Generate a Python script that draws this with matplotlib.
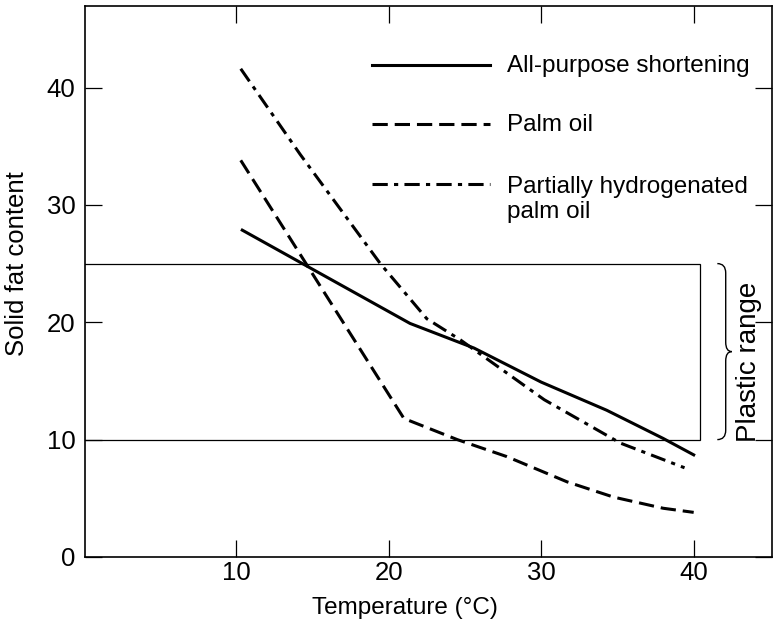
import matplotlib
matplotlib.use('Agg')
import matplotlib.pyplot as plt
from matplotlib.path import Path
from matplotlib.patches import PathPatch, Rectangle

plt.rcParams['font.family'] = ['Liberation Sans', 'DejaVu Sans']
plt.rcParams['lines.scale_dashes'] = False

# Data
temp_short = [10.4, 21.4, 25.6, 30.0, 34.3, 38.0, 40.0]
sfc_short = [27.85, 19.9, 17.8, 14.9, 12.5, 10.1, 8.7]

temp_palm = [10.3, 21.0, 24.5, 27.75, 31.7, 34.75, 38.0, 40.0]
sfc_palm = [33.8, 11.8, 10.0, 8.55, 6.4, 5.1, 4.15, 3.8]

temp_hydro = [10.3, 14.2, 19.45, 22.5, 24.7, 30.2, 35.2, 39.4]
sfc_hydro = [41.6, 34.3, 25.0, 20.3, 18.5, 13.4, 9.7, 7.6]

plastic_low, plastic_high = 10, 25
plastic_right = 40.4

labels = ['All-purpose shortening', 'Palm oil', 'Partially hydrogenated\npalm oil']
xticks = [10, 20, 30, 40]
yticks = [0, 10, 20, 30, 40]

fs = 17.5
tick_fs = 18.5
lw = 2.2
styles = ['-', (0, (11, 5)), (0, (11, 4.5, 3, 4.5))]

fig = plt.figure(figsize=(7.73, 6.23), dpi=100)
ax = fig.add_axes([0.110, 0.106, 0.889, 0.884])

# Curves
ax.plot(temp_short, sfc_short, color='black', lw=lw, ls=styles[0])
ax.plot(temp_palm, sfc_palm, color='black', lw=lw, ls=styles[1])
ax.plot(temp_hydro, sfc_hydro, color='black', lw=lw, ls=styles[2])

# Plastic range box
ax.add_patch(Rectangle((0, plastic_low), plastic_right, plastic_high - plastic_low,
                       fill=False, edgecolor='black', lw=0.9, zorder=1))

# Curly brace
xb0, xb1, xb2 = 41.55, 42.1, 42.5
ymid = (plastic_low + plastic_high) / 2
r = 0.8
verts = [(xb0, plastic_high), (xb1, plastic_high), (xb1, plastic_high - r),
         (xb1, ymid + r), (xb1, ymid), (xb2, ymid),
         (xb1, ymid), (xb1, ymid - r),
         (xb1, plastic_low + r), (xb1, plastic_low), (xb0, plastic_low)]
codes = [Path.MOVETO, Path.CURVE3, Path.CURVE3,
         Path.LINETO, Path.CURVE3, Path.CURVE3,
         Path.CURVE3, Path.CURVE3,
         Path.LINETO, Path.CURVE3, Path.CURVE3]
ax.add_patch(PathPatch(Path(verts, codes), fill=False, edgecolor='black', lw=1.0))
ax.text(43.6, 16.6, 'Plastic range', rotation=90, fontsize=20, ha='center', va='center')

# Legend keys drawn by hand so the two-line label lines up with its first line
key_y = [0.893, 0.786, 0.678]
for i in range(2):
    ax.plot([0.418, 0.590], [key_y[i], key_y[i]], transform=ax.transAxes,
            color='black', lw=lw, ls=styles[i])
    ax.text(0.614, key_y[i] - 0.002, labels[i], transform=ax.transAxes,
            fontsize=fs, va='center', ha='left')
ax.plot([0.418, 0.590], [key_y[2], key_y[2]], transform=ax.transAxes,
        color='black', lw=lw, ls=styles[2])
ax.text(0.614, key_y[2] + 0.013, labels[2], transform=ax.transAxes,
        fontsize=fs, va='top', ha='left', linespacing=1.13)

# Axes
ax.set_xlim(0.09, 45.15)
ax.set_ylim(0, 46.93)
ax.set_xticks(xticks)
ax.set_yticks(yticks)
ax.tick_params(direction='in', length=12, width=0.9, labelsize=tick_fs,
               top=True, right=True)
ax.tick_params(axis='x', pad=3)
ax.tick_params(axis='y', pad=7)
for sp in ax.spines.values():
    sp.set_linewidth(1.2)
ax.set_xlabel('Temperature (°C)', fontsize=fs)
ax.set_ylabel('Solid fat content', fontsize=18.5)
ax.xaxis.set_label_coords(0.466, -0.072)
ax.yaxis.set_label_coords(-0.081, 0.532)

plt.savefig('out.png', dpi=100)
